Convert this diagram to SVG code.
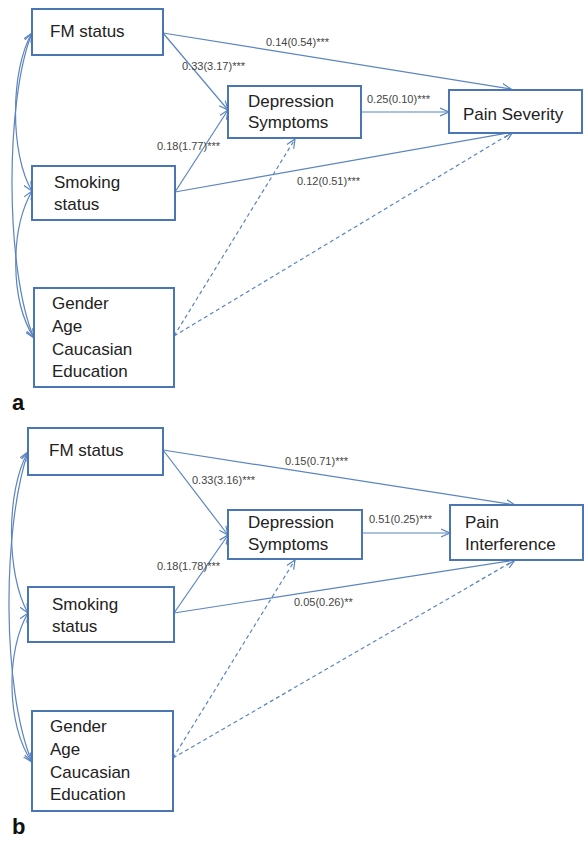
<svg xmlns="http://www.w3.org/2000/svg" width="584" height="842" viewBox="0 0 584 842">
<defs>
<marker id="ah" markerUnits="userSpaceOnUse" markerWidth="12" markerHeight="12" refX="9" refY="4" orient="auto-start-reverse" viewBox="0 0 12 8">
<path d="M0,0 L9,4 L0,8" fill="none" stroke="#5b84c0" stroke-width="1.2"/>
</marker>
</defs>
<style>
.box{fill:#fff;stroke:#4a76b4;stroke-width:2}
.t{font-family:"Liberation Sans",Arial,sans-serif;font-size:17px;fill:#222}
.l{font-family:"Liberation Sans",Arial,sans-serif;font-size:11px;fill:#444}
.c{fill:none;stroke:#5b84c0;stroke-width:1.2;marker-end:url(#ah)}
.d{fill:none;stroke:#5b84c0;stroke-width:1.2;stroke-dasharray:4,3;marker-end:url(#ah)}
.cv{fill:none;stroke:#5b84c0;stroke-width:1.2;marker-start:url(#ah);marker-end:url(#ah)}
.p{font-family:"Liberation Sans",Arial,sans-serif;font-size:22px;font-weight:bold;fill:#111}
</style>
<rect width="584" height="842" fill="#fff"/>

<g id="connectors">
<!-- panel a -->
<path class="cv" d="M32,33 C10,70 10,155 32,191"/>
<path class="cv" d="M32,33 C5,100 5,270 34,338"/>
<path class="cv" d="M32,191 C10,230 10,300 34,338"/>
<path class="c" d="M163,33 L511,89"/>
<path class="c" d="M163,33 L228,110"/>
<path class="c" d="M175,192 L228,110"/>
<path class="c" d="M361,112 L449,112"/>
<path class="c" d="M175,192 L513,132"/>
<path class="d" d="M174,336 L295,139"/>
<path class="d" d="M174,336 L513,132"/>
<!-- panel b -->
<path class="cv" d="M28,452 C6,490 6,575 28,613"/>
<path class="cv" d="M28,452 C2,530 2,690 32,762"/>
<path class="cv" d="M28,613 C6,650 6,725 32,762"/>
<path class="c" d="M163,450 L515,505"/>
<path class="c" d="M163,450 L228,535"/>
<path class="c" d="M174,613 L228,535"/>
<path class="c" d="M362,533 L450,533"/>
<path class="c" d="M174,613 L515,560"/>
<path class="d" d="M173,758 L295,560"/>
<path class="d" d="M173,758 L515,560"/>
</g>

<g id="labels">
<text class="l" x="266" y="46">0.14(0.54)***</text>
<text class="l" x="182" y="70">0.33(3.17)***</text>
<text class="l" x="157" y="150">0.18(1.77)***</text>
<text class="l" x="367" y="103">0.25(0.10)***</text>
<text class="l" x="297" y="185">0.12(0.51)***</text>
<text class="l" x="285" y="465">0.15(0.71)***</text>
<text class="l" x="192" y="484">0.33(3.16)***</text>
<text class="l" x="157" y="570">0.18(1.78)***</text>
<text class="l" x="369" y="523">0.51(0.25)***</text>
<text class="l" x="294" y="606">0.05(0.26)**</text>
</g>

<g id="a-fm"><rect class="box" x="32" y="9" width="131" height="46"/><text class="t" x="50" y="37">FM status</text></g>
<g id="a-dep"><rect class="box" x="228" y="86" width="133" height="52"/><text class="t" x="248" y="107">Depression</text><text class="t" x="248" y="128">Symptoms</text></g>
<g id="a-pain"><rect class="box" x="449" y="90" width="133" height="43"/><text class="t" x="463" y="120">Pain Severity</text></g>
<g id="a-smoke"><rect class="box" x="32" y="166" width="143" height="54"/><text class="t" x="54" y="188">Smoking</text><text class="t" x="54" y="210">status</text></g>
<g id="a-cov"><rect class="box" x="34" y="288" width="140" height="99"/><text class="t" x="52" y="309">Gender</text><text class="t" x="52" y="332">Age</text><text class="t" x="52" y="355">Caucasian</text><text class="t" x="52" y="377">Education</text></g>
<text class="p" x="12" y="410">a</text>

<g id="b-fm"><rect class="box" x="28" y="428" width="135" height="47"/><text class="t" x="49" y="456">FM status</text></g>
<g id="b-dep"><rect class="box" x="228" y="510" width="134" height="49"/><text class="t" x="248" y="528">Depression</text><text class="t" x="248" y="550">Symptoms</text></g>
<g id="b-pain"><rect class="box" x="450" y="505" width="133" height="55"/><text class="t" x="465" y="528">Pain</text><text class="t" x="465" y="550">Interference</text></g>
<g id="b-smoke"><rect class="box" x="28" y="587" width="146" height="55"/><text class="t" x="52" y="610">Smoking</text><text class="t" x="52" y="632">status</text></g>
<g id="b-cov"><rect class="box" x="32" y="711" width="141" height="100"/><text class="t" x="50" y="732">Gender</text><text class="t" x="50" y="755">Age</text><text class="t" x="50" y="778">Caucasian</text><text class="t" x="50" y="800">Education</text></g>
<text class="p" x="12" y="834">b</text>
</svg>
